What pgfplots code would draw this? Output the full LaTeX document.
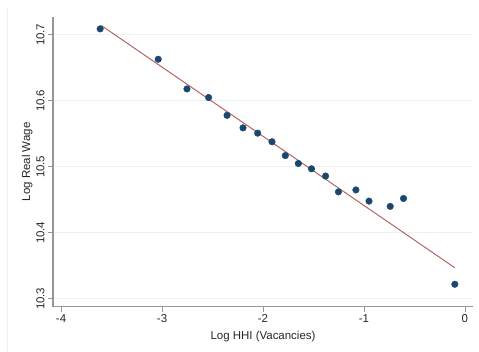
\documentclass[border=0pt]{standalone}
\usepackage{pgfplots}
\pgfplotsset{compat=1.18}
\usepackage{fontspec}
\setmainfont{Liberation Sans}
\definecolor{stnavy}{RGB}{26,71,111}
\definecolor{stmaroon}{RGB}{180,100,100}
\definecolor{stgrid}{RGB}{234,242,242}
\definecolor{staxis}{RGB}{150,150,150}
\begin{document}
\begin{tikzpicture}
\useasboundingbox (0,0) rectangle (479bp,352bp);
\draw[stgrid, line width=0.8bp] (7bp,0) -- (7bp,345bp);
\begin{axis}[
  at={(53bp,45.3bp)}, anchor=south west,
  scale only axis, width=420bp, height=289.7bp,
  xmin=-4.08, xmax=0.08, ymin=10.288, ymax=10.727,
  axis x line*=bottom, axis y line*=left,
  axis line style={staxis, line width=1.4bp, -},
  xtick={-4,-3,-2,-1,0}, ytick={10.3,10.4,10.5,10.6,10.7},
  yticklabels={10.3,10.4,10.5,10.6,10.7},
  xticklabels={-4,-3,-2,-1,0},
  tick style={staxis, line width=0.8bp},
  tick align=outside, major tick length=5bp,
  ymajorgrids, grid style={stgrid, line width=0.9bp},
  tick label style={font=\fontsize{11.5}{13}\selectfont, text=black!85},
  yticklabel style={rotate=90, anchor=south},
  xticklabel style={yshift=1bp},
  xlabel={Log HHI (Vacancies)}, ylabel={Log Real Wage},
  label style={font=\fontsize{11.5}{13}\selectfont, text=black!85},
  xlabel style={at={(ticklabel cs:0.5)}, anchor=north, yshift=-2bp},
  ylabel style={at={(ticklabel cs:0.5)}, anchor=south, yshift=-3bp},
  clip=false,
]
\addplot[stmaroon, line width=1bp, no marks] coordinates {(-3.6,10.714) (-0.1,10.347)};
\addplot[only marks, mark=*, mark size=3.3bp, stnavy, mark options={fill=stnavy, draw=stnavy}] coordinates {
(-3.613,10.709) (-3.038,10.663) (-2.753,10.618) (-2.539,10.605) (-2.356,10.578)
(-2.198,10.559) (-2.053,10.551) (-1.911,10.538) (-1.779,10.517) (-1.650,10.505)
(-1.520,10.497) (-1.380,10.486) (-1.253,10.462) (-1.080,10.465) (-0.950,10.448)
(-0.740,10.440) (-0.608,10.452) (-0.100,10.322)
};
\end{axis}
\end{tikzpicture}
\end{document}
